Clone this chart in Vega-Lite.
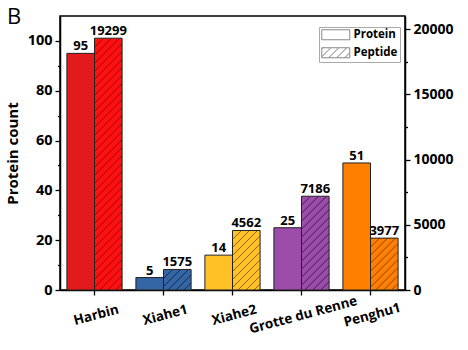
{
  "$schema": "https://vega.github.io/schema/vega-lite/v6.json",
  "width": 345,
  "height": 274,
  "autosize": {"type": "none"},
  "padding": {"left": 60, "top": 16, "right": 52, "bottom": 60},
  "title": {"text": "B", "anchor": "start", "frame": "group", "fontSize": 22, "font": "Open Sans", "fontWeight": "normal", "color": "black", "dx": -53, "dy": 26, "offset": -4, "baseline": "alphabetic"},
  "config": {
    "font": "Open Sans",
    "view": {"stroke": "black", "strokeWidth": 1.5},
    "axis": {"grid": false, "domainColor": "black", "domainWidth": 1.5, "tickColor": "black", "tickWidth": 1.3, "labelColor": "black", "titleColor": "black", "labelFont": "Open Sans", "titleFont": "Open Sans"}
  },
  "data": {"values": [
    {"site": "Harbin", "type": "Protein", "value": 95},
    {"site": "Xiahe1", "type": "Protein", "value": 5},
    {"site": "Xiahe2", "type": "Protein", "value": 14},
    {"site": "Grotte du Renne", "type": "Protein", "value": 25},
    {"site": "Penghu1", "type": "Protein", "value": 51},
    {"site": "Harbin", "type": "Peptide", "value": 19299},
    {"site": "Xiahe1", "type": "Peptide", "value": 1575},
    {"site": "Xiahe2", "type": "Peptide", "value": 4562},
    {"site": "Grotte du Renne", "type": "Peptide", "value": 7186},
    {"site": "Penghu1", "type": "Peptide", "value": 3977}
  ]},
  "encoding": {
    "x": {"field": "site", "type": "nominal", "sort": null,
      "scale": {"domain": ["Harbin", "Xiahe1", "Xiahe2", "Grotte du Renne", "Penghu1"], "paddingInner": 0.2, "paddingOuter": 0.1},
      "axis": {"orient": "bottom", "title": null, "labelAngle": -15, "labelAlign": "center", "labelBaseline": "top", "labelFontSize": 13.5, "labelFontWeight": "bold", "labelPadding": 13, "tickSize": 5}},
    "xOffset": {"field": "type", "type": "nominal", "scale": {"domain": ["Protein", "Peptide"], "paddingInner": 0, "paddingOuter": 0}}
  },
  "layer": [
    {
      "transform": [{"filter": "datum.type === 'Protein'"}],
      "encoding": {"y": {"field": "value", "type": "quantitative", "scale": {"domain": [0, 110], "nice": false},
        "axis": {"orient": "left", "title": "Protein count", "titleFontSize": 15, "titleFontWeight": "bold", "titlePadding": 7,
          "values": [0, 10, 20, 30, 40, 50, 60, 70, 80, 90, 100],
          "labelExpr": "datum.value % 20 === 0 ? datum.label : ''",
          "tickSize": {"condition": {"test": "datum.value % 20 === 0", "value": 5}, "value": 2.5},
          "labelFontSize": 14.5, "labelFontWeight": "bold", "labelPadding": 3}}},
      "layer": [
        {"mark": {"type": "bar", "stroke": "#222", "strokeWidth": 1},
          "encoding": {
            "fill": {"field": "site", "type": "nominal", "scale": {"domain": ["Harbin", "Xiahe1", "Xiahe2", "Grotte du Renne", "Penghu1"], "range": ["#E31A1C", "#3465A4", "#FFC125", "#9B4DA9", "#FF8000"]}, "legend": null},
            "opacity": {"field": "type", "type": "nominal", "scale": {"domain": ["Protein", "Peptide"], "range": [1, 1]},
              "legend": {"title": null, "orient": "none", "legendX": 259, "legendY": 11, "symbolType": "M-1,-1H4.6V1H-1Z", "symbolSize": 100, "symbolStrokeColor": "#888", "symbolStrokeWidth": 1, "symbolFillColor": "white", "labelFontSize": 11.5, "labelFontWeight": "bold", "labelOffset": 21, "rowPadding": 3, "padding": 2, "strokeColor": "#aaa", "fillColor": "white", "labelColor": "black",
                "encode": {"symbols": {"update": {
                  "fill": [
                    {"test": "datum.value === 'Peptide'", "value": {"gradient": "linear", "x1": 0, "y1": 0, "x2": 1.267, "y2": 0.4525, "stops": [
                      {"offset": 0, "color": "#fff"}, {"offset": 0.025, "color": "#777"}, {"offset": 0.05, "color": "#fff"},
                      {"offset": 0.2, "color": "#fff"}, {"offset": 0.225, "color": "#777"}, {"offset": 0.25, "color": "#fff"},
                      {"offset": 0.4, "color": "#fff"}, {"offset": 0.425, "color": "#777"}, {"offset": 0.45, "color": "#fff"},
                      {"offset": 0.6, "color": "#fff"}, {"offset": 0.625, "color": "#777"}, {"offset": 0.65, "color": "#fff"},
                      {"offset": 0.8, "color": "#fff"}, {"offset": 0.825, "color": "#777"}, {"offset": 0.85, "color": "#fff"}]}},
                    {"value": "white"}],
                  "stroke": {"value": "#888"}}}}}}
          }},
        {"mark": {"type": "text", "fontSize": 13, "fontWeight": "bold", "baseline": "alphabetic", "dy": -3, "color": "black"},
          "encoding": {"text": {"field": "value", "type": "quantitative", "format": "d"}}}
      ]
    },
    {
      "transform": [{"filter": "datum.type === 'Peptide'"}],
      "encoding": {"y": {"field": "value", "type": "quantitative", "scale": {"domain": [0, 21000], "nice": false},
        "axis": {"orient": "right", "title": null, "format": "d",
          "values": [0, 2500, 5000, 7500, 10000, 12500, 15000, 17500, 20000],
          "labelExpr": "datum.value % 5000 === 0 ? datum.label : ''",
          "tickSize": {"condition": {"test": "datum.value % 5000 === 0", "value": 5}, "value": 2.5},
          "labelFontSize": 14, "labelFontWeight": "bold", "labelPadding": 3}}},
      "layer": [
        {"mark": {"type": "bar", "stroke": "#222", "strokeWidth": 1},
          "encoding": {
            "fill": {"condition": [
              {"test": "datum.site === 'Harbin'", "value": {"gradient": "linear", "x1": 0, "y1": 0, "x2": 0.1204, "y2": 1.0988, "stops": [
                {"offset": 0, "color": "#f11"}, {"offset": 0.0036, "color": "#900"}, {"offset": 0.0071, "color": "#f11"},
                {"offset": 0.0286, "color": "#f11"}, {"offset": 0.0321, "color": "#900"}, {"offset": 0.0357, "color": "#f11"},
                {"offset": 0.0571, "color": "#f11"}, {"offset": 0.0607, "color": "#900"}, {"offset": 0.0643, "color": "#f11"},
                {"offset": 0.0857, "color": "#f11"}, {"offset": 0.0893, "color": "#900"}, {"offset": 0.0929, "color": "#f11"},
                {"offset": 0.1143, "color": "#f11"}, {"offset": 0.1179, "color": "#900"}, {"offset": 0.1214, "color": "#f11"},
                {"offset": 0.1429, "color": "#f11"}, {"offset": 0.1464, "color": "#900"}, {"offset": 0.15, "color": "#f11"},
                {"offset": 0.1714, "color": "#f11"}, {"offset": 0.175, "color": "#900"}, {"offset": 0.1786, "color": "#f11"},
                {"offset": 0.2, "color": "#f11"}, {"offset": 0.2036, "color": "#900"}, {"offset": 0.2071, "color": "#f11"},
                {"offset": 0.2286, "color": "#f11"}, {"offset": 0.2321, "color": "#900"}, {"offset": 0.2357, "color": "#f11"},
                {"offset": 0.2571, "color": "#f11"}, {"offset": 0.2607, "color": "#900"}, {"offset": 0.2643, "color": "#f11"},
                {"offset": 0.2857, "color": "#f11"}, {"offset": 0.2893, "color": "#900"}, {"offset": 0.2929, "color": "#f11"},
                {"offset": 0.3143, "color": "#f11"}, {"offset": 0.3179, "color": "#900"}, {"offset": 0.3214, "color": "#f11"},
                {"offset": 0.3429, "color": "#f11"}, {"offset": 0.3464, "color": "#900"}, {"offset": 0.35, "color": "#f11"},
                {"offset": 0.3714, "color": "#f11"}, {"offset": 0.375, "color": "#900"}, {"offset": 0.3786, "color": "#f11"},
                {"offset": 0.4, "color": "#f11"}, {"offset": 0.4036, "color": "#900"}, {"offset": 0.4071, "color": "#f11"},
                {"offset": 0.4286, "color": "#f11"}, {"offset": 0.4321, "color": "#900"}, {"offset": 0.4357, "color": "#f11"},
                {"offset": 0.4571, "color": "#f11"}, {"offset": 0.4607, "color": "#900"}, {"offset": 0.4643, "color": "#f11"},
                {"offset": 0.4857, "color": "#f11"}, {"offset": 0.4893, "color": "#900"}, {"offset": 0.4929, "color": "#f11"},
                {"offset": 0.5143, "color": "#f11"}, {"offset": 0.5179, "color": "#900"}, {"offset": 0.5214, "color": "#f11"},
                {"offset": 0.5429, "color": "#f11"}, {"offset": 0.5464, "color": "#900"}, {"offset": 0.55, "color": "#f11"},
                {"offset": 0.5714, "color": "#f11"}, {"offset": 0.575, "color": "#900"}, {"offset": 0.5786, "color": "#f11"},
                {"offset": 0.6, "color": "#f11"}, {"offset": 0.6036, "color": "#900"}, {"offset": 0.6071, "color": "#f11"},
                {"offset": 0.6286, "color": "#f11"}, {"offset": 0.6321, "color": "#900"}, {"offset": 0.6357, "color": "#f11"},
                {"offset": 0.6571, "color": "#f11"}, {"offset": 0.6607, "color": "#900"}, {"offset": 0.6643, "color": "#f11"},
                {"offset": 0.6857, "color": "#f11"}, {"offset": 0.6893, "color": "#900"}, {"offset": 0.6929, "color": "#f11"},
                {"offset": 0.7143, "color": "#f11"}, {"offset": 0.7179, "color": "#900"}, {"offset": 0.7214, "color": "#f11"},
                {"offset": 0.7429, "color": "#f11"}, {"offset": 0.7464, "color": "#900"}, {"offset": 0.75, "color": "#f11"},
                {"offset": 0.7714, "color": "#f11"}, {"offset": 0.775, "color": "#900"}, {"offset": 0.7786, "color": "#f11"},
                {"offset": 0.8, "color": "#f11"}, {"offset": 0.8036, "color": "#900"}, {"offset": 0.8071, "color": "#f11"},
                {"offset": 0.8286, "color": "#f11"}, {"offset": 0.8321, "color": "#900"}, {"offset": 0.8357, "color": "#f11"},
                {"offset": 0.8571, "color": "#f11"}, {"offset": 0.8607, "color": "#900"}, {"offset": 0.8643, "color": "#f11"},
                {"offset": 0.8857, "color": "#f11"}, {"offset": 0.8893, "color": "#900"}, {"offset": 0.8929, "color": "#f11"},
                {"offset": 0.9143, "color": "#f11"}, {"offset": 0.9179, "color": "#900"}, {"offset": 0.9214, "color": "#f11"},
                {"offset": 0.9429, "color": "#f11"}, {"offset": 0.9464, "color": "#900"}, {"offset": 0.95, "color": "#f11"},
                {"offset": 0.9714, "color": "#f11"}, {"offset": 0.975, "color": "#900"}, {"offset": 0.9786, "color": "#f11"}]}},
              {"test": "datum.site === 'Xiahe1'", "value": {"gradient": "linear", "x1": 0, "y1": 0, "x2": 1.3053, "y2": 0.9719, "stops": [
                {"offset": 0, "color": "#3465A4"}, {"offset": 0.0179, "color": "#142a48"}, {"offset": 0.0357, "color": "#3465A4"},
                {"offset": 0.1429, "color": "#3465A4"}, {"offset": 0.1607, "color": "#142a48"}, {"offset": 0.1786, "color": "#3465A4"},
                {"offset": 0.2857, "color": "#3465A4"}, {"offset": 0.3036, "color": "#142a48"}, {"offset": 0.3214, "color": "#3465A4"},
                {"offset": 0.4286, "color": "#3465A4"}, {"offset": 0.4464, "color": "#142a48"}, {"offset": 0.4643, "color": "#3465A4"},
                {"offset": 0.5714, "color": "#3465A4"}, {"offset": 0.5893, "color": "#142a48"}, {"offset": 0.6071, "color": "#3465A4"},
                {"offset": 0.7143, "color": "#3465A4"}, {"offset": 0.7321, "color": "#142a48"}, {"offset": 0.75, "color": "#3465A4"},
                {"offset": 0.8571, "color": "#3465A4"}, {"offset": 0.875, "color": "#142a48"}, {"offset": 0.8929, "color": "#3465A4"}]}},
              {"test": "datum.site === 'Xiahe2'", "value": {"gradient": "linear", "x1": 0, "y1": 0, "x2": 0.5643, "y2": 1.2168, "stops": [
                {"offset": 0, "color": "#FFC125"}, {"offset": 0.0114, "color": "#8a6400"}, {"offset": 0.0227, "color": "#FFC125"},
                {"offset": 0.0909, "color": "#FFC125"}, {"offset": 0.1023, "color": "#8a6400"}, {"offset": 0.1136, "color": "#FFC125"},
                {"offset": 0.1818, "color": "#FFC125"}, {"offset": 0.1932, "color": "#8a6400"}, {"offset": 0.2045, "color": "#FFC125"},
                {"offset": 0.2727, "color": "#FFC125"}, {"offset": 0.2841, "color": "#8a6400"}, {"offset": 0.2955, "color": "#FFC125"},
                {"offset": 0.3636, "color": "#FFC125"}, {"offset": 0.375, "color": "#8a6400"}, {"offset": 0.3864, "color": "#FFC125"},
                {"offset": 0.4545, "color": "#FFC125"}, {"offset": 0.4659, "color": "#8a6400"}, {"offset": 0.4773, "color": "#FFC125"},
                {"offset": 0.5455, "color": "#FFC125"}, {"offset": 0.5568, "color": "#8a6400"}, {"offset": 0.5682, "color": "#FFC125"},
                {"offset": 0.6364, "color": "#FFC125"}, {"offset": 0.6477, "color": "#8a6400"}, {"offset": 0.6591, "color": "#FFC125"},
                {"offset": 0.7273, "color": "#FFC125"}, {"offset": 0.7386, "color": "#8a6400"}, {"offset": 0.75, "color": "#FFC125"},
                {"offset": 0.8182, "color": "#FFC125"}, {"offset": 0.8295, "color": "#8a6400"}, {"offset": 0.8409, "color": "#FFC125"},
                {"offset": 0.9091, "color": "#FFC125"}, {"offset": 0.9205, "color": "#8a6400"}, {"offset": 0.9318, "color": "#FFC125"}]}},
              {"test": "datum.site === 'Grotte du Renne'", "value": {"gradient": "linear", "x1": 0, "y1": 0, "x2": 0.3698, "y2": 1.2563, "stops": [
                {"offset": 0, "color": "#9B4DA9"}, {"offset": 0.0078, "color": "#3f1a48"}, {"offset": 0.0156, "color": "#9B4DA9"},
                {"offset": 0.0625, "color": "#9B4DA9"}, {"offset": 0.0703, "color": "#3f1a48"}, {"offset": 0.0781, "color": "#9B4DA9"},
                {"offset": 0.125, "color": "#9B4DA9"}, {"offset": 0.1328, "color": "#3f1a48"}, {"offset": 0.1406, "color": "#9B4DA9"},
                {"offset": 0.1875, "color": "#9B4DA9"}, {"offset": 0.1953, "color": "#3f1a48"}, {"offset": 0.2031, "color": "#9B4DA9"},
                {"offset": 0.25, "color": "#9B4DA9"}, {"offset": 0.2578, "color": "#3f1a48"}, {"offset": 0.2656, "color": "#9B4DA9"},
                {"offset": 0.3125, "color": "#9B4DA9"}, {"offset": 0.3203, "color": "#3f1a48"}, {"offset": 0.3281, "color": "#9B4DA9"},
                {"offset": 0.375, "color": "#9B4DA9"}, {"offset": 0.3828, "color": "#3f1a48"}, {"offset": 0.3906, "color": "#9B4DA9"},
                {"offset": 0.4375, "color": "#9B4DA9"}, {"offset": 0.4453, "color": "#3f1a48"}, {"offset": 0.4531, "color": "#9B4DA9"},
                {"offset": 0.5, "color": "#9B4DA9"}, {"offset": 0.5078, "color": "#3f1a48"}, {"offset": 0.5156, "color": "#9B4DA9"},
                {"offset": 0.5625, "color": "#9B4DA9"}, {"offset": 0.5703, "color": "#3f1a48"}, {"offset": 0.5781, "color": "#9B4DA9"},
                {"offset": 0.625, "color": "#9B4DA9"}, {"offset": 0.6328, "color": "#3f1a48"}, {"offset": 0.6406, "color": "#9B4DA9"},
                {"offset": 0.6875, "color": "#9B4DA9"}, {"offset": 0.6953, "color": "#3f1a48"}, {"offset": 0.7031, "color": "#9B4DA9"},
                {"offset": 0.75, "color": "#9B4DA9"}, {"offset": 0.7578, "color": "#3f1a48"}, {"offset": 0.7656, "color": "#9B4DA9"},
                {"offset": 0.8125, "color": "#9B4DA9"}, {"offset": 0.8203, "color": "#3f1a48"}, {"offset": 0.8281, "color": "#9B4DA9"},
                {"offset": 0.875, "color": "#9B4DA9"}, {"offset": 0.8828, "color": "#3f1a48"}, {"offset": 0.8906, "color": "#9B4DA9"},
                {"offset": 0.9375, "color": "#9B4DA9"}, {"offset": 0.9453, "color": "#3f1a48"}, {"offset": 0.9531, "color": "#9B4DA9"}]}},
              {"test": "datum.site === 'Penghu1'", "value": {"gradient": "linear", "x1": 0, "y1": 0, "x2": 0.6392, "y2": 1.2017, "stops": [
                {"offset": 0, "color": "#FF8000"}, {"offset": 0.0125, "color": "#8a4200"}, {"offset": 0.025, "color": "#FF8000"},
                {"offset": 0.1, "color": "#FF8000"}, {"offset": 0.1125, "color": "#8a4200"}, {"offset": 0.125, "color": "#FF8000"},
                {"offset": 0.2, "color": "#FF8000"}, {"offset": 0.2125, "color": "#8a4200"}, {"offset": 0.225, "color": "#FF8000"},
                {"offset": 0.3, "color": "#FF8000"}, {"offset": 0.3125, "color": "#8a4200"}, {"offset": 0.325, "color": "#FF8000"},
                {"offset": 0.4, "color": "#FF8000"}, {"offset": 0.4125, "color": "#8a4200"}, {"offset": 0.425, "color": "#FF8000"},
                {"offset": 0.5, "color": "#FF8000"}, {"offset": 0.5125, "color": "#8a4200"}, {"offset": 0.525, "color": "#FF8000"},
                {"offset": 0.6, "color": "#FF8000"}, {"offset": 0.6125, "color": "#8a4200"}, {"offset": 0.625, "color": "#FF8000"},
                {"offset": 0.7, "color": "#FF8000"}, {"offset": 0.7125, "color": "#8a4200"}, {"offset": 0.725, "color": "#FF8000"},
                {"offset": 0.8, "color": "#FF8000"}, {"offset": 0.8125, "color": "#8a4200"}, {"offset": 0.825, "color": "#FF8000"},
                {"offset": 0.9, "color": "#FF8000"}, {"offset": 0.9125, "color": "#8a4200"}, {"offset": 0.925, "color": "#FF8000"}]}}
            ], "value": "#999"},
            "opacity": {"field": "type", "type": "nominal"}
          }},
        {"mark": {"type": "text", "fontSize": 13, "fontWeight": "bold", "baseline": "alphabetic", "dy": -3, "color": "black"},
          "encoding": {"text": {"field": "value", "type": "quantitative", "format": "d"}}}
      ]
    }
  ],
  "resolve": {"scale": {"y": "independent"}}
}
